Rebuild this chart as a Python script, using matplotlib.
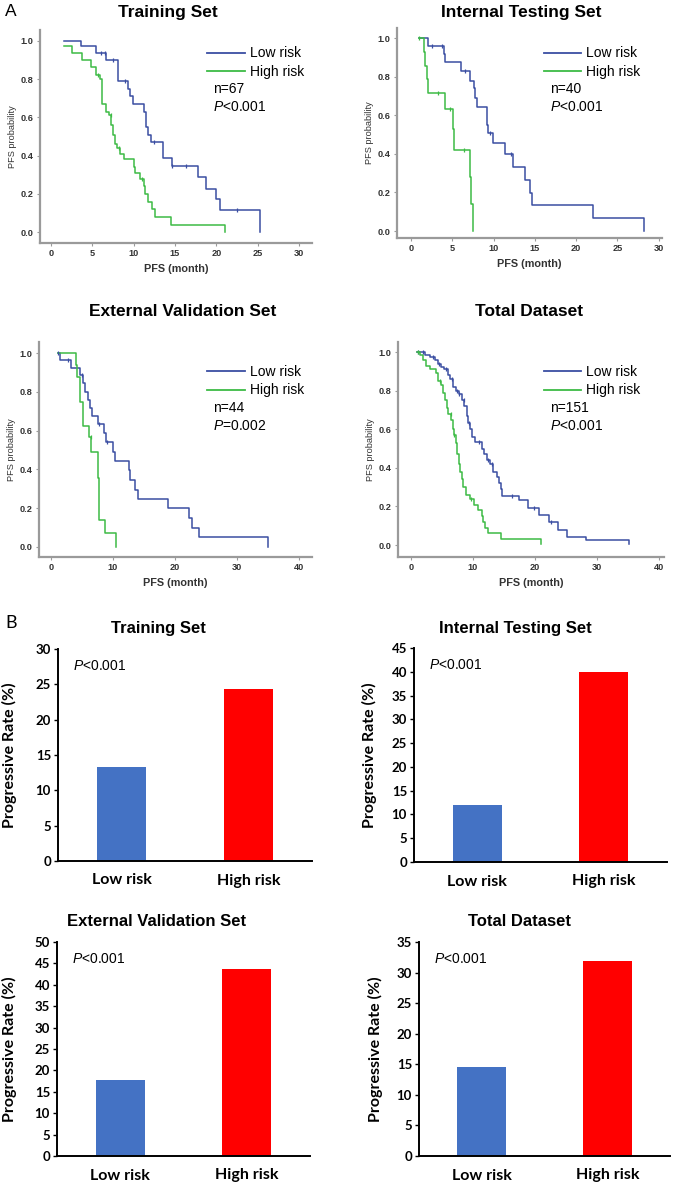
import matplotlib
matplotlib.use("Agg")
import matplotlib.pyplot as plt
import numpy as np
from matplotlib.lines import Line2D

plt.rcParams["font.family"] = ["Liberation Sans", "DejaVu Sans"]
plt.rcParams["mathtext.fontset"] = "custom"
plt.rcParams["mathtext.it"] = "Liberation Sans:italic"
plt.rcParams["mathtext.rm"] = "Liberation Sans"

W, H = 674, 1183
BAR_FONT = ["Lato", "DejaVu Sans"]

# ── Kaplan-Meier data (time in months, survival after step) ─────────────────
tr_low_t = [1.6, 3.6, 5.4, 6.6, 8.1, 9.35, 9.6, 9.95, 11.3, 11.45, 11.7, 12.05,
            13.5, 13.6, 14.6, 17.8, 18.7, 20.0, 20.4, 25.3]
tr_low_s = [1.0, 0.972, 0.937, 0.90, 0.79, 0.75, 0.71, 0.67, 0.63, 0.55, 0.51,
            0.47, 0.43, 0.386, 0.346, 0.287, 0.228, 0.172, 0.117, 0.0]
tr_low_c = [6.0, 6.5, 7.5, 9.0, 12.4, 14.6, 16.3, 22.5]
tr_high_t = [1.6, 2.6, 3.7, 4.8, 5.4, 5.9, 6.2, 6.7, 7.0, 7.3, 7.5, 7.7, 8.0,
             8.3, 8.8, 10.0, 10.2, 10.8, 11.2, 11.4, 11.7, 12.2, 12.6, 14.5, 21.0]
tr_high_s = [0.974, 0.937, 0.90, 0.864, 0.82, 0.80, 0.67, 0.63, 0.61, 0.56,
             0.51, 0.46, 0.44, 0.41, 0.38, 0.34, 0.31, 0.28, 0.24, 0.20, 0.16,
             0.12, 0.078, 0.038, 0.0]
tr_high_c = [5.7, 7.2, 8.2, 11.0]

it_low_t = [0.93, 2.0, 3.95, 4.1, 6.05, 7.2, 7.6, 7.8, 8.0, 9.2, 9.3, 9.9,
            11.35, 12.4, 13.85, 14.4, 14.65, 22.1, 28.2]
it_low_s = [1.0, 0.96, 0.92, 0.875, 0.83, 0.78, 0.74, 0.69, 0.645, 0.55,
            0.507, 0.458, 0.40, 0.334, 0.265, 0.199, 0.135, 0.066, 0.0]
it_low_c = [2.5, 3.75, 6.5, 9.6, 12.1]
it_high_t = [0.93, 1.6, 1.75, 1.9, 2.0, 4.1, 5.1, 5.15, 7.1, 7.3, 7.5]
it_high_s = [1.0, 0.929, 0.857, 0.786, 0.714, 0.635, 0.53, 0.42, 0.28, 0.14, 0.0]
it_high_c = [0.93, 3.3, 4.7, 6.4]

ev_low_t = [1.2, 1.45, 3.2, 4.7, 5.1, 5.5, 6.0, 6.3, 6.6, 7.5, 8.5, 8.9, 10.0,
            10.3, 12.5, 12.7, 13.5, 14.1, 18.9, 22.3, 22.8, 23.9, 35.0]
ev_low_s = [1.0, 0.965, 0.922, 0.888, 0.845, 0.80, 0.76, 0.716, 0.676, 0.634,
            0.59, 0.543, 0.49, 0.443, 0.397, 0.345, 0.293, 0.247, 0.198,
            0.147, 0.098, 0.05, 0.0]
ev_low_c = [1.2, 2.8, 5.0, 7.7, 9.0]
ev_high_t = [1.2, 4.0, 4.2, 4.7, 5.1, 6.2, 6.5, 7.5, 7.8, 8.7, 10.5]
ev_high_s = [1.0, 0.94, 0.876, 0.75, 0.624, 0.569, 0.49, 0.353, 0.14, 0.07, 0.0]
ev_high_c = [6.4]

td_low_t = [1.0, 2.3, 3.0, 3.8, 4.3, 4.8, 5.3, 6.0, 6.3, 6.8, 7.2, 7.8, 8.2,
            8.6, 9.0, 9.2, 9.5, 9.9, 10.4, 11.5, 11.8, 12.2, 12.8, 13.3, 13.9,
            14.2, 14.5, 14.7, 17.4, 18.9, 20.6, 22.3, 23.8, 25.2, 28.2, 35.2]
td_low_s = [1.0, 0.985, 0.975, 0.96, 0.94, 0.92, 0.91, 0.88, 0.86, 0.82, 0.80,
            0.78, 0.75, 0.72, 0.67, 0.63, 0.60, 0.56, 0.535, 0.50, 0.47, 0.44,
            0.42, 0.38, 0.35, 0.32, 0.29, 0.255, 0.234, 0.19, 0.156, 0.12,
            0.078, 0.043, 0.026, 0.005]
td_low_c = [1.2, 2.0, 3.5, 4.5, 5.6, 6.6, 7.5, 7.8, 8.5, 9.3, 11.0, 12.5,
            13.0, 16.3, 19.8, 22.6]
td_high_t = [1.0, 1.5, 2.0, 2.5, 3.0, 4.0, 4.3, 4.8, 5.2, 5.5, 5.8, 6.0, 6.5,
             6.7, 7.0, 7.2, 7.5, 7.7, 7.9, 8.2, 8.4, 8.8, 9.5, 10.2, 10.8,
             11.4, 11.7, 12.0, 12.5, 14.5, 21.0]
td_high_s = [1.0, 0.985, 0.96, 0.93, 0.91, 0.89, 0.85, 0.83, 0.79, 0.75, 0.71,
             0.68, 0.65, 0.60, 0.57, 0.53, 0.47, 0.42, 0.38, 0.34, 0.30, 0.26,
             0.24, 0.21, 0.18, 0.15, 0.12, 0.09, 0.06, 0.03, 0.005]
td_high_c = [1.2, 4.7, 6.4, 7.0, 9.7]

km_titles = ["Training Set", "Internal Testing Set",
             "External Validation Set", "Total Dataset"]
km_n = ["n=67", "n=40", "n=44", "n=151"]
km_p = ["<0.001", "<0.001", "=0.002", "<0.001"]
km_xticks = [[0, 5, 10, 15, 20, 25, 30], [0, 5, 10, 15, 20, 25, 30],
             [0, 10, 20, 30, 40], [0, 10, 20, 30, 40]]

# ── bar data ─────────────────────────────────────────────────────────────────
bar_titles = km_titles
bar_cats = ["Low risk", "High risk"]
bar_low = [13.3, 12.0, 17.8, 14.6]
bar_high = [24.3, 40.0, 43.6, 31.9]
bar_ymax = [30, 45, 50, 35]

BLUE_KM = "#3a4ea2"
GREEN_KM = "#3dbb45"
BLUE_BAR = "#4472c4"
RED_BAR = "#ff0000"


def box(l, t, r, b):
    """pixel box (top-left origin) -> figure fraction rect"""
    return [l / W, 1 - b / H, (r - l) / W, (b - t) / H]


def step_value(ts, ss, t):
    i = np.searchsorted(np.asarray(ts), t, side="right") - 1
    return np.asarray(ss)[max(i, 0)]


fig = plt.figure(figsize=(W / 100, H / 100), dpi=100)

# ── A: Kaplan-Meier panels ───────────────────────────────────────────────────
km_boxes = [(40, 30, 312, 243), (397, 28, 662, 238),
            (39, 342, 312, 557), (398, 342, 664, 557)]
km_xlims = [(-1.33, 31.57), (-1.70, 30.4), (-1.94, 42.1), (-2.1, 40.85)]
km_ylims = [(-0.056, 1.056), (-0.036, 1.053), (-0.053, 1.058), (-0.062, 1.052)]
km_title_xy = [(168, 12), (521, 13), (183, 311), (529, 311)]
km_leg_xy = [(0.615, 0.923), (0.553, 0.912), (0.617, 0.895), (0.547, 0.895)]
km_txt_x = [0.636, 0.577, 0.637, 0.571]
km_n_y = [0.723, 0.71, 0.693, 0.693]
km_p_y = [0.638, 0.624, 0.609, 0.609]
km_data = [
    (tr_low_t, tr_low_s, tr_low_c, tr_high_t, tr_high_s, tr_high_c),
    (it_low_t, it_low_s, it_low_c, it_high_t, it_high_s, it_high_c),
    (ev_low_t, ev_low_s, ev_low_c, ev_high_t, ev_high_s, ev_high_c),
    (td_low_t, td_low_s, td_low_c, td_high_t, td_high_s, td_high_c),
]

for k in range(4):
    ax = fig.add_axes(box(*km_boxes[k]))
    lt, ls, lc, ht, hs, hc = km_data[k]
    ax.step(lt, ls, where="post", color=BLUE_KM, lw=1.1)
    ax.step(ht, hs, where="post", color=GREEN_KM, lw=1.1)
    ax.plot(lc, [step_value(lt, ls, c) for c in lc], ls="none", marker="|",
            ms=3.5, mew=0.9, color=BLUE_KM)
    ax.plot(hc, [step_value(ht, hs, c) for c in hc], ls="none", marker="|",
            ms=3.5, mew=0.9, color=GREEN_KM)
    ax.set_xlim(*km_xlims[k])
    ax.set_ylim(*km_ylims[k])
    ax.set_xticks(km_xticks[k])
    ax.set_yticks([0, 0.2, 0.4, 0.6, 0.8, 1.0])
    ax.set_yticklabels(["0.0", "0.2", "0.4", "0.6", "0.8", "1.0"])
    for s in ("top", "right"):
        ax.spines[s].set_visible(False)
    for s in ("left", "bottom"):
        ax.spines[s].set_color("#9a9a9a")
        ax.spines[s].set_linewidth(1.6)
    ax.tick_params(colors="#9a9a9a", labelcolor="#333333", length=2.5,
                   width=0.8, labelsize=6.6, pad=2)
    for lab in ax.get_xticklabels() + ax.get_yticklabels():
        lab.set_fontweight("bold")
    ax.set_xlabel("PFS (month)", fontsize=7.8, fontweight="bold", color="#333333")
    ax.set_ylabel("PFS probability", fontsize=6.6, color="#333333")
    ax.xaxis.set_label_coords(0.5, -0.1)
    ax.yaxis.set_label_coords(-0.085, 0.5)

    handles = [Line2D([], [], color=BLUE_KM, lw=1.3),
               Line2D([], [], color=GREEN_KM, lw=1.3)]
    ax.legend(handles, ["Low risk", "High risk"], loc="upper left",
              bbox_to_anchor=km_leg_xy[k], frameon=False, fontsize=10,
              handlelength=2.7, handletextpad=0.35, labelspacing=0.35,
              borderpad=0, borderaxespad=0)
    ax.text(km_txt_x[k], km_n_y[k], km_n[k], transform=ax.transAxes,
            fontsize=10, va="center", ha="left")
    ax.text(km_txt_x[k], km_p_y[k], r"$\mathit{P}$" + km_p[k],
            transform=ax.transAxes, fontsize=10, va="center", ha="left")
    tx, ty = km_title_xy[k]
    fig.text(tx / W, 1 - ty / H, km_titles[k], fontsize=12.5, fontweight="bold",
             ha="center", va="center")

# ── B: progressive-rate bars ─────────────────────────────────────────────────
bar_boxes = [(58, 649, 312, 861), (414, 648, 667, 862),
             (57, 942, 310, 1156), (419, 942, 670, 1156)]
bar_title_xy = [(158, 628), (515, 628), (157, 922), (519, 922)]
ylab_x = [-0.16, -0.145, -0.16, -0.145]

for k in range(4):
    ax = fig.add_axes(box(*bar_boxes[k]))
    ax.bar([0, 1], [bar_low[k], bar_high[k]], width=0.39,
           color=[BLUE_BAR, RED_BAR])
    ax.set_xlim(-0.5, 1.5)
    ax.set_ylim(0, bar_ymax[k])
    ax.set_yticks(np.arange(0, bar_ymax[k] + 1, 5))
    ax.set_xticks([0, 1])
    ax.set_xticklabels(bar_cats, fontsize=11.5, fontweight="bold",
                       family=BAR_FONT)
    for lab in ax.get_yticklabels():
        lab.set_fontweight("bold")
        lab.set_fontsize(9.5)
        lab.set_family(BAR_FONT)
    for s in ("top", "right"):
        ax.spines[s].set_visible(False)
    for s in ("left", "bottom"):
        ax.spines[s].set_linewidth(1.4)
    ax.tick_params(axis="x", length=0, pad=9)
    ax.tick_params(axis="y", length=3, width=1.0, pad=2)
    ax.set_ylabel("Progressive Rate (%)", fontsize=11.5, fontweight="bold",
                  family=BAR_FONT)
    ax.yaxis.set_label_coords(ylab_x[k], 0.5)
    ax.text(0.06, 0.92, r"$\mathit{P}$<0.001", transform=ax.transAxes,
            fontsize=10, va="center", ha="left")
    tx, ty = bar_title_xy[k]
    fig.text(tx / W, 1 - ty / H, bar_titles[k], fontsize=12, fontweight="bold",
             ha="center", va="center")

fig.text(5 / W, 1 - 12 / H, "A", fontsize=12.5, ha="left", va="center")
fig.text(5 / W, 1 - 623 / H, "B", fontsize=13, ha="left", va="center",
         family=BAR_FONT)

fig.savefig("out.png", dpi=100)
